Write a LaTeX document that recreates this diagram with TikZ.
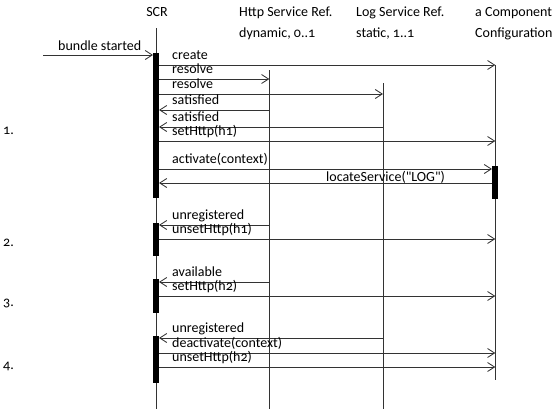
\documentclass[tikz,border=0pt]{standalone}
\usepackage{fontspec}
\setmainfont{Carlito}[Numbers=OldStyle, Ligatures=TeXOff]
\usepackage{tikz}
\usetikzlibrary{arrows.meta}

\begin{document}
\begin{tikzpicture}[x=1pt,y=-1pt,
	life/.style={draw=black!80, line width=0.85},
	msg/.style={draw=black!80, line width=0.85, -{Straight Barb[length=7pt,width=9pt]}},
	lbl/.style={anchor=base west, inner sep=0, font=\fontsize{14}{14}\selectfont},
	head/.style={anchor=north west, inner sep=0, align=left, font=\fontsize{14}{21}\selectfont}]

\useasboundingbox (0,0) rectangle (554,410);

\node[head, anchor=center] (scr) at (157,12) {SCR};
\node[head] (http) at (239,7) {Http Service Ref.\\dynamic, 0..1};
\node[head] (log) at (356,7) {Log Service Ref.\\static, 1..1};
\node[head] (comp) at (475,7) {a Component\\Configuration};

\coordinate (scrline) at (156,0);
\coordinate (httpline) at (269.3,0);
\coordinate (logline) at (383,0);
\coordinate (compline) at (495.3,0);
\coordinate (scrbar) at (159,0);
\coordinate (scrbarL) at (153,0);
\coordinate (compbar) at (492,0);

\foreach \n/\ya/\yb in {scrline/28/409, httpline/70/409, logline/83/409, compline/65/380}{
	\draw[life] (\n |- 0,\ya) -- (\n |- 0,\yb);
}

\foreach \ya/\yb in {53/198, 223/256, 279/313, 336/383}{
	\fill (153,\ya) rectangle (159,\yb);
}
\fill (492,166) rectangle (498,199);

\coordinate (start) at (43,55);
\draw[msg] (start) -- (scrbarL |- start);
\node[lbl] (started) at (58,50) {bundle started};

\foreach \y/\a/\b/\txt [count=\i] in {65/scrbar/compline/create, 79/scrbar/httpline/resolve,
	94/scrbar/logline/resolve, 110/httpline/scrbar/satisfied, 127/logline/scrbar/satisfied,
	141/scrbar/compline/setHttp(h1), 169/scrbar/compbar/activate(context),
	225/httpline/scrbar/unregistered, 239/scrbar/compline/unsetHttp(h1),
	282/httpline/scrbar/available, 296/scrbar/compline/setHttp(h2),
	338/logline/scrbar/unregistered, 353/scrbar/compline/deactivate(context),
	367/scrbar/compline/unsetHttp(h2)}{
	\draw[msg] (\a |- 0,\y) -- (\b |- 0,\y);
	\node[lbl] (msg\i) at (172,\y-6) {\txt};
}

\draw[msg] (compbar |- 0,183) -- (scrbar |- 0,183);
\node[lbl] (locate) at (326,181) {locateService("LOG")};

\foreach \y/\t [count=\i] in {131/1., 243/2., 303/3., 366/4.}{
	\node[lbl, anchor=west] (step\i) at (3,\y) {\t};
}

\end{tikzpicture}
\end{document}
